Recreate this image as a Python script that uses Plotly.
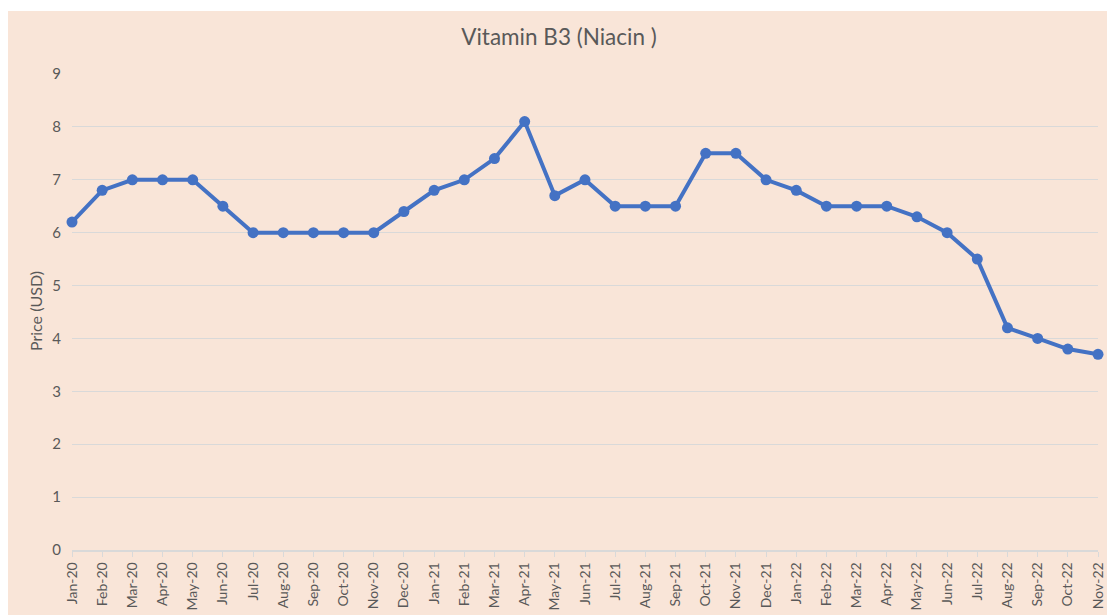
import plotly.graph_objects as go

months = ["Jan-20","Feb-20","Mar-20","Apr-20","May-20","Jun-20","Jul-20","Aug-20","Sep-20","Oct-20","Nov-20","Dec-20",
          "Jan-21","Feb-21","Mar-21","Apr-21","May-21","Jun-21","Jul-21","Aug-21","Sep-21","Oct-21","Nov-21","Dec-21",
          "Jan-22","Feb-22","Mar-22","Apr-22","May-22","Jun-22","Jul-22","Aug-22","Sep-22","Oct-22","Nov-22"]
prices = [6.2, 6.8, 7.0, 7.0, 7.0, 6.5, 6.0, 6.0, 6.0, 6.0, 6.0, 6.4,
          6.8, 7.0, 7.4, 8.1, 6.7, 7.0, 6.5, 6.5, 6.5, 7.5, 7.5, 7.0,
          6.8, 6.5, 6.5, 6.5, 6.3, 6.0, 5.5, 4.2, 4.0, 3.8, 3.7]
y_ticks = [0, 1, 2, 3, 4, 5, 6, 7, 8, 9]

FONT = "Lato, 'Open Sans', sans-serif"
GRAY = "#595959"
PEACH = "#F9E5D8"

W, H = 1107, 615
L, R, T, B = 72, 9, 74, 65
pw = W - L - R
ph = H - T - B

fig = go.Figure()
fig.add_trace(go.Scatter(
    x=list(range(len(months))), y=prices, mode="lines+markers",
    line=dict(color="#4472C4", width=4),
    marker=dict(color="#4472C4", size=11),
    hoverinfo="y", showlegend=False, cliponaxis=False,
))

# peach chart panel (white strip at top and left of the page)
fig.add_shape(type="rect", xref="paper", yref="paper",
              x0=(8 - L) / pw, x1=(W - L) / pw,
              y0=-B / ph, y1=(ph + T - 11) / ph,
              fillcolor=PEACH, line=dict(width=0), layer="below")

fig.update_layout(
    width=W, height=H,
    margin=dict(l=L, r=R, t=T, b=B, autoexpand=False),
    paper_bgcolor="white",
    plot_bgcolor="rgba(0,0,0,0)",
    font=dict(family=FONT, color=GRAY),
    title=dict(text="Vitamin B3 (Niacin )", x=(559 / W), xref="container",
               y=1 - 37 / H, yref="container", xanchor="center", yanchor="middle",
               font=dict(size=22.5, color=GRAY, family=FONT)),
    xaxis=dict(
        tickmode="array", tickvals=list(range(len(months))), ticktext=months,
        range=[0, len(months) - 1], tickangle=-90, automargin=False,
        tickfont=dict(size=14, color=GRAY),
        showgrid=False, showline=True, linecolor="#D9D9D9", linewidth=1.5,
        ticks="outside", ticklen=5, tickcolor="#D9D9D9", zeroline=False,
    ),
    yaxis=dict(
        range=[0, 9], tickvals=y_ticks, automargin=False,
        tickfont=dict(size=15, color=GRAY),
        showgrid=True, gridcolor="#D9D9D9", gridwidth=1.2,
        zeroline=False, showline=False, ticks="", ticklabelstandoff=10,
    ),
    annotations=[dict(text="Price (USD)", x=(35 - L) / pw, y=(550 - 311) / ph,
                      xref="paper", yref="paper", xanchor="center", yanchor="middle",
                      textangle=-90, showarrow=False, font=dict(size=16, color=GRAY, family=FONT))],
)

fig.write_html("out.html", config={"displayModeBar": False},
               post_script="document.body.style.margin='0';document.body.style.overflow='hidden';")
